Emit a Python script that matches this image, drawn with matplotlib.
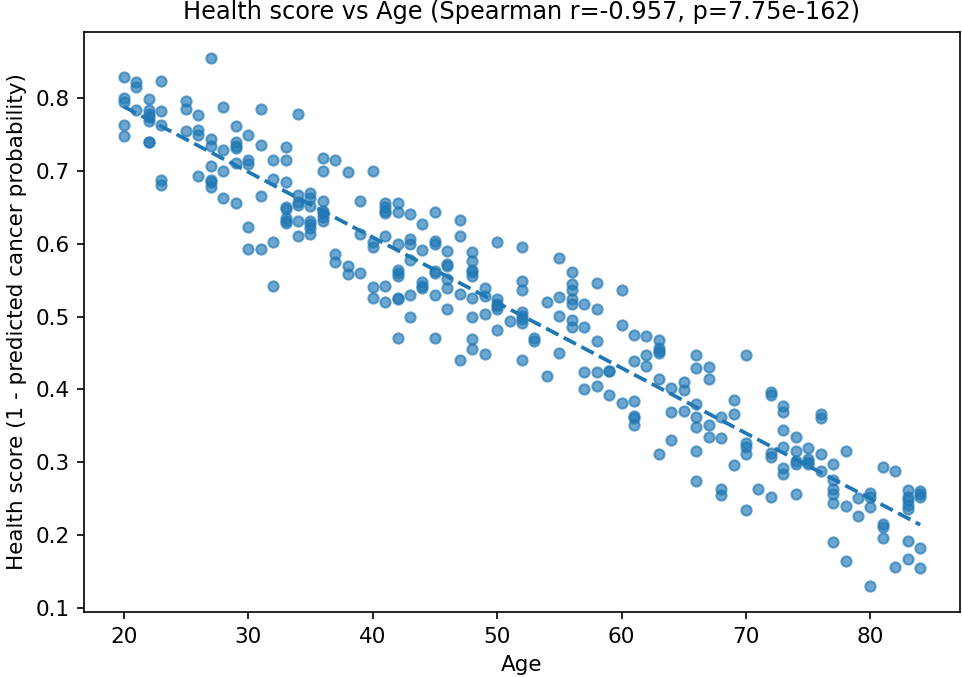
import numpy as np
import matplotlib.pyplot as plt

# 每个年龄对应的健康分数
ages_by_group = {
    20: [0.828, 0.800, 0.794, 0.762, 0.748],
    21: [0.821, 0.815, 0.783],
    22: [0.798, 0.783, 0.778, 0.773, 0.768, 0.740, 0.740],
    23: [0.823, 0.782, 0.762, 0.687, 0.681],
    25: [0.796, 0.785, 0.755],
    26: [0.776, 0.756, 0.749, 0.693],
    27: [0.854, 0.743, 0.734, 0.707, 0.687, 0.684, 0.678],
    28: [0.787, 0.729, 0.699, 0.663],
    29: [0.761, 0.740, 0.734, 0.731, 0.711, 0.656],
    30: [0.749, 0.714, 0.709, 0.623, 0.593],
    31: [0.785, 0.735, 0.665, 0.593],
    32: [0.714, 0.689, 0.602, 0.542],
    33: [0.733, 0.715, 0.685, 0.650, 0.648, 0.635, 0.631, 0.628],
    34: [0.778, 0.666, 0.657, 0.653, 0.631, 0.611],
    35: [0.669, 0.663, 0.652, 0.631, 0.627, 0.622, 0.613],
    36: [0.718, 0.699, 0.658, 0.645, 0.642, 0.636, 0.631],
    37: [0.715, 0.586, 0.575],
    38: [0.698, 0.569, 0.558],
    39: [0.659, 0.613, 0.560],
    40: [0.699, 0.602, 0.596, 0.540, 0.526],
    41: [0.655, 0.650, 0.645, 0.642, 0.611, 0.542, 0.520],
    42: [0.656, 0.643, 0.599, 0.564, 0.560, 0.555, 0.526, 0.524, 0.470],
    43: [0.641, 0.606, 0.599, 0.577, 0.530, 0.500],
    44: [0.627, 0.591, 0.548, 0.542, 0.539],
    45: [0.644, 0.603, 0.600, 0.562, 0.560, 0.530, 0.470],
    46: [0.590, 0.572, 0.569, 0.551, 0.539, 0.511],
    47: [0.633, 0.611, 0.531, 0.440],
    48: [0.589, 0.576, 0.564, 0.561, 0.556, 0.525, 0.499, 0.469, 0.456],
    49: [0.539, 0.528, 0.503, 0.448],
    50: [0.602, 0.524, 0.517, 0.514, 0.510, 0.482],
    51: [0.494],
    52: [0.596, 0.549, 0.537, 0.506, 0.501, 0.497, 0.491, 0.440],
    53: [0.470, 0.467],
    54: [0.520, 0.419],
    55: [0.580, 0.527, 0.501, 0.450],
    56: [0.561, 0.545, 0.537, 0.524, 0.517, 0.495, 0.485],
    57: [0.517, 0.485, 0.424, 0.400],
    58: [0.546, 0.511, 0.467, 0.424, 0.405],
    59: [0.425, 0.425, 0.393],
    60: [0.537, 0.489, 0.381],
    61: [0.474, 0.439, 0.384, 0.363, 0.361, 0.351],
    62: [0.473, 0.447, 0.432],
    63: [0.468, 0.457, 0.453, 0.450, 0.414, 0.311],
    64: [0.402, 0.369, 0.331],
    65: [0.410, 0.399, 0.370],
    66: [0.447, 0.430, 0.380, 0.362, 0.348, 0.315, 0.275],
    67: [0.431, 0.415, 0.351, 0.335],
    68: [0.362, 0.333, 0.263, 0.255],
    69: [0.385, 0.366, 0.297],
    70: [0.447, 0.326, 0.321, 0.311, 0.235],
    71: [0.263],
    72: [0.396, 0.393, 0.313, 0.308, 0.252],
    73: [0.378, 0.369, 0.345, 0.321, 0.292, 0.284],
    74: [0.335, 0.315, 0.302, 0.298, 0.256],
    75: [0.320, 0.305, 0.300, 0.298],
    76: [0.367, 0.361, 0.311, 0.288],
    77: [0.298, 0.276, 0.263, 0.257, 0.244, 0.191],
    78: [0.316, 0.240, 0.165],
    79: [0.251, 0.226],
    80: [0.258, 0.253, 0.239, 0.131],
    81: [0.293, 0.216, 0.211, 0.197],
    82: [0.288, 0.156],
    83: [0.262, 0.253, 0.248, 0.242, 0.236, 0.192, 0.167],
    84: [0.261, 0.256, 0.253, 0.182, 0.155],
}

age = np.array([a for a, vals in ages_by_group.items() for _ in vals], dtype=float)
score = np.array([v for vals in ages_by_group.values() for v in vals])

title = 'Health score vs Age (Spearman r=-0.957, p=7.75e-162)'


def main():
    fig = plt.figure(figsize=(962 / 150, 677 / 150), dpi=150)
    ax = fig.add_axes([84 / 962, 1 - 612 / 677, 1 - 84 / 962 - 2 / 962, (612 - 32) / 677])

    ax.scatter(age, score, s=24, alpha=0.65, color='tab:blue')

    # 线性拟合趋势线
    k, b = np.polyfit(age, score, 1)
    xs = np.array([age.min(), age.max()])
    ax.plot(xs, k * xs + b, '--', color='tab:blue', linewidth=1.8)

    ax.set_xlabel('Age', fontsize=10.3)
    ax.set_ylabel('Health score (1 - predicted cancer probability)', fontsize=10.3)
    ax.tick_params(labelsize=10.3)
    ax.set_title(title, fontsize=11.5)
    fig.savefig('out.png', dpi=150)


if __name__ == "__main__":
    main()
